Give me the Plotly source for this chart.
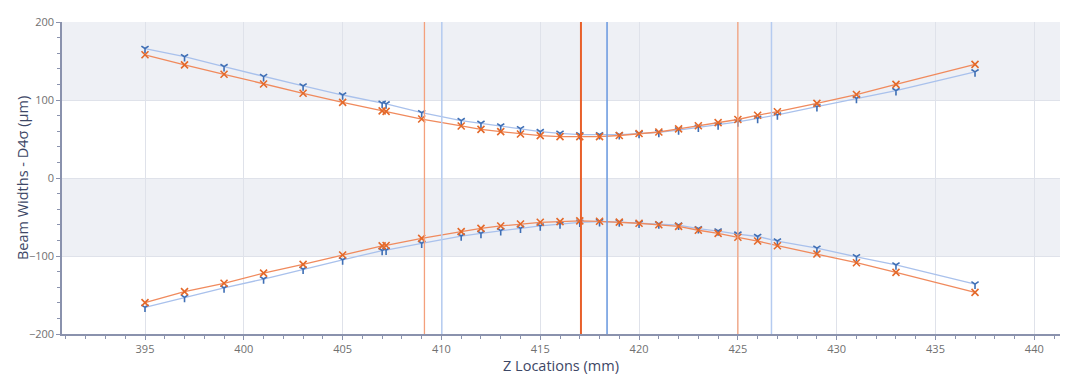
import plotly.graph_objects as go

z = [395, 397, 399, 401, 403, 405, 407, 407.2, 409, 411, 412, 413, 414, 415, 416, 417,
     418, 419, 420, 421, 422, 423, 424, 425, 426, 427, 429, 431, 433, 437]

blue_top = [166, 155.5, 142.7, 130, 118, 106.4, 95.7, 95, 83.7, 73.5, 70, 66.7, 63.2, 59.4,
            57.3, 55.5, 55.5, 55.5, 57, 58.5, 61.5, 65, 68, 72, 76.5, 80.8, 91.4, 102, 112, 136]
orange_top = [158, 145, 133, 120.5, 108.6, 97, 86, 85.5, 75.6, 66.7, 62.4, 59.4, 56.4, 54.3,
              53, 53, 53, 54.5, 57, 59, 63, 67, 71, 75, 80.5, 85, 95.7, 107, 120, 145.7]
blue_bot = [-165.8, -153, -141, -129.5, -117, -105, -93, -92.5, -83.7, -74.4, -71, -67.5, -64.5,
            -61.5, -59, -56.8, -56, -56.5, -58, -59, -60.5, -65, -68, -72, -75, -80.8, -90,
            -101, -111.5, -136]
orange_bot = [-159.8, -145.7, -135, -122, -110.7, -98.7, -87, -86.5, -77.4, -68.8, -64.5, -61.5,
              -59, -56.8, -56, -55, -55.5, -56.5, -58, -60, -62, -67, -71, -76, -80.8, -86.8,
              -97.4, -108.6, -121, -146.6]

# vertical reference lines (waist and Rayleigh limits)
orange_waist = 417.06
orange_limits = [409.14, 425.0]
blue_waist = 418.38
blue_limits = [410.02, 426.7]

bands = [(100, 200), (-100, 0)]

x_ticks = [395, 400, 405, 410, 415, 420, 425, 430, 435, 440]
y_ticks = [-200, -100, 0, 100, 200]

x_title = "Z Locations (mm)"
y_title = "Beam Widths - D4σ (µm)"

BLUE_LINE = "#a9c1ec"
BLUE_MK = "#3f6fb5"
OR_LINE = "#f08a5d"
OR_MK = "#e4692a"

fig = go.Figure()


def add_series(y, line_c, mk_c, symbol, size):
    fig.add_trace(go.Scatter(
        x=z, y=y, mode="lines+markers",
        line=dict(color=line_c, width=1.3),
        marker=dict(symbol=symbol, size=size, color=mk_c, line=dict(color=mk_c, width=1.6)),
        showlegend=False, hoverinfo="x+y"))


add_series(blue_top, BLUE_LINE, BLUE_MK, "y-down-open", 6)
add_series(blue_bot, BLUE_LINE, BLUE_MK, "y-down-open", 6)
add_series(orange_top, OR_LINE, OR_MK, "x-thin-open", 7)
add_series(orange_bot, OR_LINE, OR_MK, "x-thin-open", 7)

shapes = []
for lo, hi in bands:
    shapes.append(dict(type="rect", xref="paper", yref="y", x0=0, x1=1, y0=lo, y1=hi,
                       fillcolor="#eef0f5", line=dict(width=0), layer="below"))
for xv in orange_limits:
    shapes.append(dict(type="line", xref="x", yref="paper", x0=xv, x1=xv, y0=0, y1=1,
                       line=dict(color="#f4a07c", width=1.3)))
for xv in blue_limits:
    shapes.append(dict(type="line", xref="x", yref="paper", x0=xv, x1=xv, y0=0, y1=1,
                       line=dict(color="#b5cbf0", width=1.5)))
shapes.append(dict(type="line", xref="x", yref="paper", x0=orange_waist, x1=orange_waist,
                   y0=0, y1=1, line=dict(color="#e8602a", width=2)))
shapes.append(dict(type="line", xref="x", yref="paper", x0=blue_waist, x1=blue_waist,
                   y0=0, y1=1, line=dict(color="#6f9ce0", width=1.6)))

fig.update_layout(
    width=1080, height=388,
    margin=dict(l=62, r=20, t=22, b=54),
    paper_bgcolor="white", plot_bgcolor="white",
    shapes=shapes,
    font=dict(family="Open Sans, Noto Sans, sans-serif", color="#666"),
    annotations=[dict(text=y_title, textangle=-90, xref="paper", yref="paper",
                      x=-0.04, y=0.5, xanchor="center", yanchor="middle", showarrow=False,
                      font=dict(size=14.5, color="#3d4766"))],
    xaxis=dict(
        range=[390.8, 441.3], tickvals=x_ticks, showgrid=True, gridcolor="#dfe2ea", gridwidth=1,
        zeroline=False, showline=True, linecolor="#8a92ad", linewidth=1.5,
        ticks="outside", ticklen=4, tickcolor="#8a92ad",
        minor=dict(dtick=1, ticks="outside", ticklen=3, tickcolor="#8a92ad", showgrid=False),
        tickfont=dict(size=11, color="#707070"),
        title=dict(text=x_title, font=dict(size=14.5, color="#3d4766"), standoff=6),
    ),
    yaxis=dict(
        range=[-200, 200], tickvals=y_ticks, showgrid=True, gridcolor="#dfe2ea", gridwidth=1,
        zeroline=False, showline=True, linecolor="#8a92ad", linewidth=1.5,
        ticks="outside", ticklen=4, tickcolor="#8a92ad",
        minor=dict(dtick=20, ticks="outside", ticklen=3, tickcolor="#8a92ad", showgrid=False),
        tickfont=dict(size=11, color="#707070"),
    ),
)

# remove the browser's default 8px body margin so the figure sits at the window origin
fig.write_html("out.html", config={"displayModeBar": False},
               post_script="document.body.style.margin='0';document.body.style.overflow='hidden';")
